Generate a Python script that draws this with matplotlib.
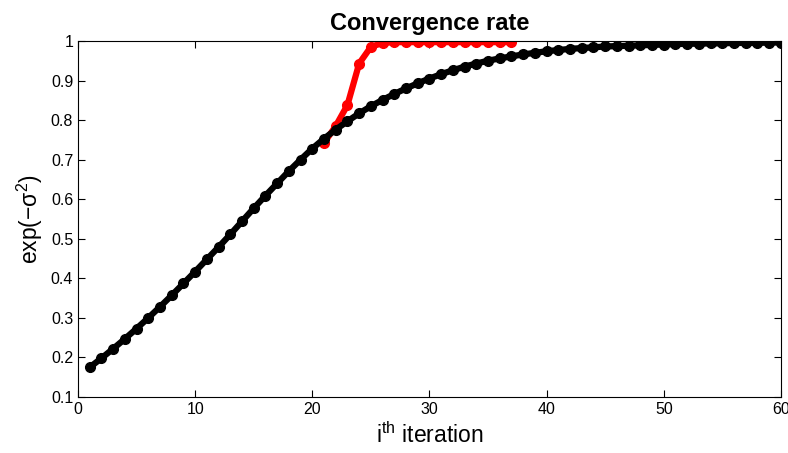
import numpy as np
import matplotlib.pyplot as plt

plt.rcParams['font.family'] = ['Liberation Sans', 'DejaVu Sans']

# iteration index for both runs
iters_black = list(range(1, 61))
rate_black = [0.175, 0.198, 0.222, 0.247, 0.273, 0.300, 0.328, 0.357, 0.387, 0.417,
              0.448, 0.479, 0.511, 0.544, 0.577, 0.609, 0.640, 0.671, 0.700, 0.728,
              0.753, 0.776, 0.797, 0.817, 0.835, 0.851, 0.866, 0.880, 0.893, 0.905,
              0.916, 0.926, 0.935, 0.943, 0.950, 0.956, 0.961, 0.966, 0.970, 0.974,
              0.977, 0.980, 0.982, 0.984, 0.986, 0.987, 0.988, 0.989, 0.990, 0.991,
              0.992, 0.993, 0.993, 0.994, 0.994, 0.995, 0.995, 0.995, 0.996, 0.996]

iters_red = list(range(21, 38))
rate_red = [0.742, 0.785, 0.838, 0.943, 0.985, 0.995, 0.997, 0.997, 0.997, 0.997,
            0.997, 0.997, 0.997, 0.997, 0.997, 0.997, 0.997]

xticks = [0, 10, 20, 30, 40, 50, 60]
yticks = [0.1, 0.2, 0.3, 0.4, 0.5, 0.6, 0.7, 0.8, 0.9, 1]

fig = plt.figure(figsize=(7.88, 4.53), dpi=100)
ax = fig.add_axes([0.099, 0.1236, 0.892, 0.786])

ax.plot(iters_red, rate_red, color='red', lw=4.5, marker='o', markersize=7)
ax.plot(iters_black, rate_black, color='black', lw=4.5, marker='o', markersize=7)

ax.set_xlim(0, 60)
ax.set_ylim(0.1, 1)
ax.set_xticks(xticks)
ax.set_yticks(yticks)
ax.set_yticklabels(['0.1', '0.2', '0.3', '0.4', '0.5', '0.6', '0.7', '0.8', '0.9', '1'])
ax.tick_params(direction='in', top=True, right=True, labelsize=11.5, length=5)

ax.set_title('Convergence rate', fontsize=17, fontweight='bold', pad=8)
ax.set_xlabel('i$^{\\mathregular{th}}$ iteration', fontsize=16.5, labelpad=4)
ax.set_ylabel('exp(\u2212\u03c3$^{\\mathregular{2}}$)', fontsize=16.5, labelpad=4)

fig.savefig('out.png', dpi=100)
